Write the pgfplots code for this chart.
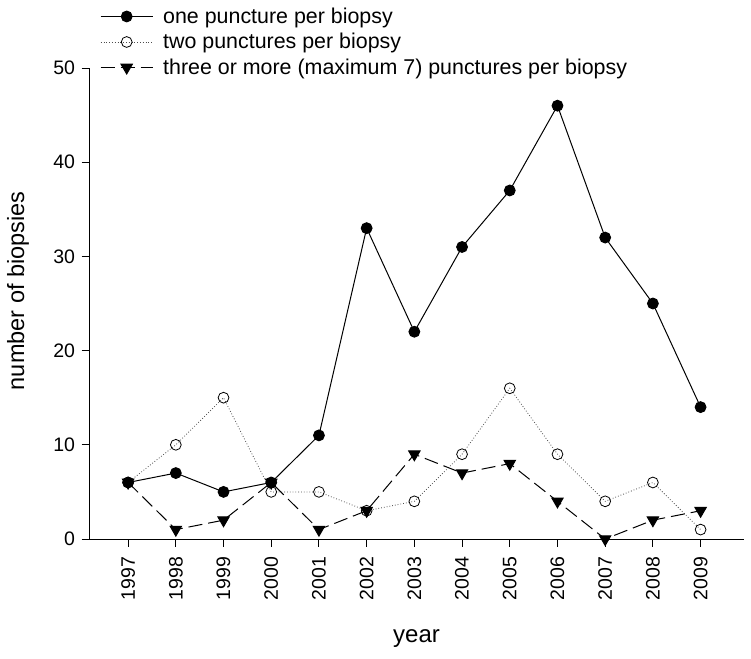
\documentclass[border=0pt]{standalone}
\usepackage{pgfplots}
\pgfplotsset{compat=1.18}
\usepackage{fontspec}
\setmainfont{Liberation Sans}
\begin{document}
\begin{tikzpicture}
\useasboundingbox (0,0) rectangle (751pt,658pt);
\begin{axis}[
  at={(89pt,119pt)}, anchor=south west,
  scale only axis, width=655pt, height=471pt,
  xmin=1996.18, xmax=2009.91, ymin=0, ymax=50,
  axis x line*=bottom, axis y line*=left,
  xtick={1997,...,2009}, ytick={0,10,...,50},
  tick align=outside, major tick length=7.5pt,
  tick style={black, line width=0.9pt},
  axis line style={line width=0.9pt},
  /pgf/number format/assume math mode=true,
  xticklabel={\pgfmathprintnumber[1000 sep={}]{\tick}},
  xticklabel shift=7pt, yticklabel shift=3pt,
  x tick label style={rotate=90, anchor=east, font=\fontsize{19.5}{19.5}\selectfont},
  y tick label style={font=\fontsize{19.5}{19.5}\selectfont},
  xlabel={year}, ylabel={number of biopsies},
  every axis x label/.style={at={(axis description cs:0.5,0)}, anchor=base, yshift=-103pt, font=\fontsize{24}{24}\selectfont},
  every axis y label/.style={at={(axis description cs:0,0.527)}, xshift=-71pt, rotate=90, anchor=center, font=\fontsize{23.5}{23.5}\selectfont},
  clip=false,
  legend cell align=left,
  legend style={at={(0pt,471pt)}, anchor=west, xshift=8pt, yshift=26pt, draw=none, fill=none,
    font=\fontsize{21.4}{21.4}\selectfont, row sep=4.5pt, column sep=8pt},
  legend image code/.code={\draw[mark repeat=2, mark phase=2, #1] plot coordinates {(0pt,0pt) (26pt,0pt) (52pt,0pt)};},
]
\addplot[black, line width=1pt, mark=*, mark size=5.4pt, mark options={solid, fill=black}] coordinates {
(1997,6) (1998,7) (1999,5) (2000,6) (2001,11) (2002,33) (2003,22) (2004,31) (2005,37) (2006,46) (2007,32) (2008,25) (2009,14)};
\addlegendentry{one puncture per biopsy}
\addplot[black!70, line width=0.8pt, dotted, mark=o, mark size=5.4pt, mark options={solid, black, fill=white}] coordinates {
(1997,6) (1998,10) (1999,15) (2000,5) (2001,5) (2002,3) (2003,4) (2004,9) (2005,16) (2006,9) (2007,4) (2008,6) (2009,1)};
\addlegendentry{two punctures per biopsy}
\addplot[black, line width=1pt, dash pattern=on 14pt off 6pt, mark=triangle*, mark size=6.5pt, mark options={solid, fill=black, rotate=180}] coordinates {
(1997,6) (1998,1) (1999,2) (2000,6) (2001,1) (2002,3) (2003,9) (2004,7) (2005,8) (2006,4) (2007,0) (2008,2) (2009,3)};
\addlegendentry{three or more (maximum 7) punctures per biopsy}
\end{axis}
\end{tikzpicture}
\end{document}
